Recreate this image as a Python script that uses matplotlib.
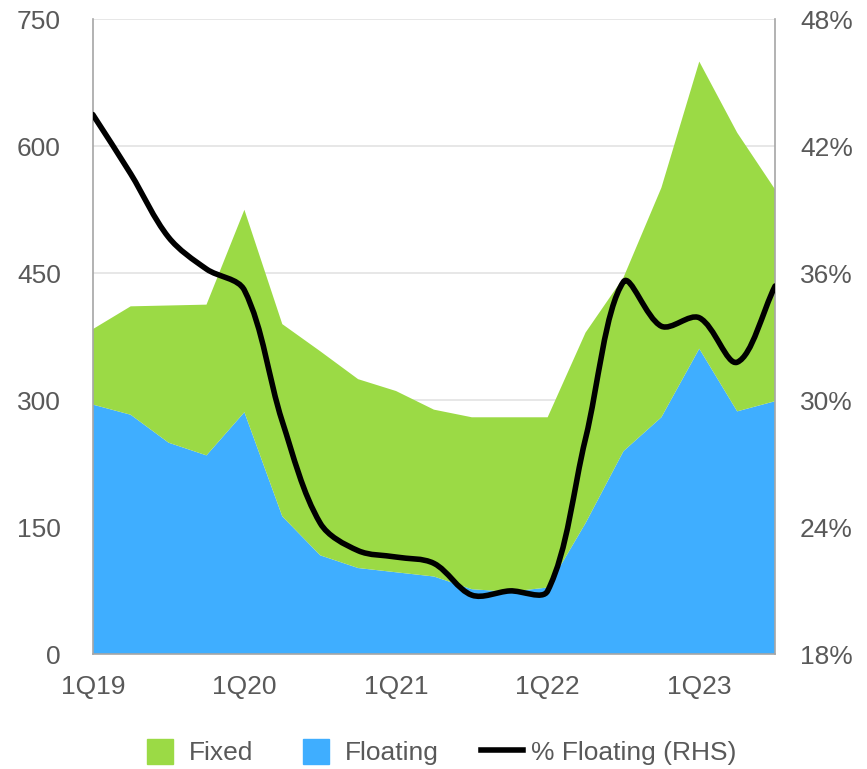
import numpy as np
import matplotlib.pyplot as plt
from matplotlib.path import Path
from matplotlib.patches import PathPatch, Patch, Rectangle
from matplotlib.lines import Line2D
from matplotlib.legend_handler import HandlerPatch

plt.rcParams['font.family'] = ['Liberation Sans', 'DejaVu Sans']

quarters = ['1Q19', '2Q19', '3Q19', '4Q19', '1Q20', '2Q20', '3Q20', '4Q20',
            '1Q21', '2Q21', '3Q21', '4Q21', '1Q22', '2Q22', '3Q22', '4Q22',
            '1Q23', '2Q23', '3Q23']
floating = [295, 283, 250, 235, 286, 163, 117, 102, 97, 92, 77, 74, 79,
            155, 240, 280, 361, 287, 299]
fixed = [89, 128, 162, 178, 239, 227, 241, 223, 214, 197, 203, 206, 201,
         225, 205, 271, 339, 329, 250]
pct_floating = [43.5, 40.7, 37.7, 36.2, 35.2, 29.0, 24.2, 22.9, 22.6, 22.3,
                20.8, 21.0, 21.0, 28.2, 35.6, 33.5, 33.9, 31.8, 35.4]

green = '#9BDA45'
blue = '#3FAEFF'
grey_txt = '#595959'


def smooth_path(xs, ys, sx, sy, k=1/3.):
    # Excel-like smoothing: bezier handles split by segment length in pixel space
    pts = np.column_stack([np.asarray(xs, float) * sx, np.asarray(ys, float) * sy])
    n = len(pts)
    before = np.zeros_like(pts)
    after = np.zeros_like(pts)
    for i in range(n):
        pp = pts[max(i - 1, 0)]
        pn = pts[min(i + 1, n - 1)]
        t = pn - pp
        d1 = np.hypot(*(pts[i] - pp))
        d2 = np.hypot(*(pn - pts[i]))
        tot = d1 + d2 if d1 + d2 > 0 else 1.0
        before[i] = pts[i] - t * d1 / tot * k
        after[i] = pts[i] + t * d2 / tot * k
    verts = [pts[0]]
    codes = [Path.MOVETO]
    for i in range(n - 1):
        verts += [after[i], before[i + 1], pts[i + 1]]
        codes += [Path.CURVE4] * 3
    verts = np.array(verts)
    verts[:, 0] /= sx
    verts[:, 1] /= sy
    return Path(verts, codes)


def square_patch(legend, orig_handle, xdescent, ydescent, width, height, fontsize):
    w = 26 * 72 / 100.
    h = 25 * 72 / 100.
    return Rectangle((-xdescent + (width - w) / 2, -ydescent + (height - h) / 2), w, h)


x = np.arange(len(quarters))

fig = plt.figure(figsize=(8.67, 7.69), dpi=100)
ax = fig.add_axes([0.107, 0.149, 0.787, 0.826])

ax.stackplot(x, floating, fixed, colors=[blue, green], linewidth=0)
ax.set_xlim(0, len(quarters) - 1)
ax.set_ylim(0, 750)
ax.set_yticks(range(0, 751, 150))
ax.grid(axis='y', color='#E3E3E3', linewidth=1.2)
ax.set_axisbelow(True)
ax.set_xticks(x[::4])
ax.set_xticklabels(quarters[::4])
ax.tick_params(length=0, labelsize=19, labelcolor=grey_txt)
ax.tick_params(axis='x', pad=15)
ax.tick_params(axis='y', pad=23)
for s in ['left', 'bottom', 'right']:
    ax.spines[s].set_color('#A6A6A6')
    ax.spines[s].set_linewidth(1.2)
ax.spines['top'].set_visible(False)

ax2 = ax.twinx()
ax2.set_ylim(18, 48)
ax2.set_yticks(range(18, 49, 6))
ax2.set_yticklabels([f'{v}%' for v in range(18, 49, 6)])
ax2.tick_params(length=0, labelsize=19, labelcolor=grey_txt, pad=18)
for s in ax2.spines.values():
    s.set_visible(False)
# pixel scale of the plot area, so the smoothing is done in screen space
px_x = 682 / 18.
px_y = 635 / 30.
ax2.add_patch(PathPatch(smooth_path(x, pct_floating, px_x, px_y), facecolor='none',
                        edgecolor='black', linewidth=4, capstyle='round',
                        joinstyle='round'))

handles = [Patch(color=green, label='Fixed'),
           Patch(color=blue, label='Floating'),
           Line2D([0], [0], color='black', linewidth=4, label='% Floating (RHS)')]
leg = fig.legend(handles=handles, loc='center', bbox_to_anchor=(0.505, 0.0215),
                 ncol=3, frameon=False, fontsize=19, handlelength=1.59,
                 handleheight=0.95, columnspacing=1.59, handletextpad=0.3,
                 borderpad=0, handler_map={Patch: HandlerPatch(patch_func=square_patch)})
for t in leg.get_texts():
    t.set_color(grey_txt)

fig.savefig('out.png', dpi=100)
